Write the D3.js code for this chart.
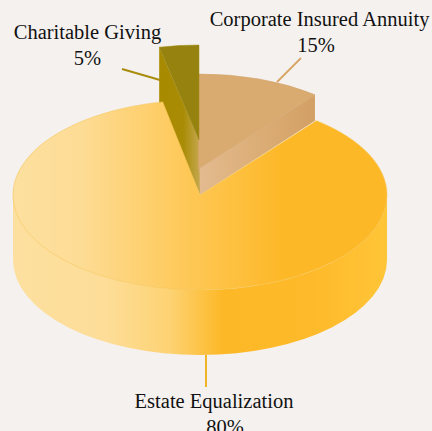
<!DOCTYPE html>
<html>
<head>
<meta charset="utf-8">
<script src="https://cdnjs.cloudflare.com/ajax/libs/d3/7.8.5/d3.min.js"></script>
<style>
  html, body { margin: 0; padding: 0; background: #f5f1ef; overflow: hidden; }
  text { font-family: "Liberation Serif", serif; font-size: 20.5px; fill: #111; }
</style>
</head>
<body>
<div id="chart"></div>
<script>
const categories = ["Corporate Insured Annuity", "Estate Equalization", "Charitable Giving"];
const shares = [15, 80, 5];

const width = 432, height = 431;
const cx = 200, cy = 195, rx = 187, ry = 95, depth = 65;

// the 3d view squeezes the slices near the back, so the pie angles get remapped
const deg = Math.PI / 180;
const viewAngle = d3.scaleLinear()
  .domain([0, 54, 342, 360].map(d => d * deg))
  .range([0, 38.5, 347.7, 360].map(d => d * deg));

// how each slice is drawn, same order as categories
const sliceStyle = [
  { lift: 26, dx: -1.5, top: "#d9ab71", wall: "url(#wall-corporate)", line: "#d9a66a", endTrim: 0,
    leader: [[277, 82], [301, 58]], label: [319.5, 26], pctDx: -3.5, stroke: "#d3a268" },
  { lift: 0, dx: 0, top: "url(#top-estate)", wall: null, line: "#f0b429", endTrim: 0.8,
    leader: [[206, 355], [206, 387]], label: [214, 408], pctDx: 11, stroke: "#f6c655" },
  { lift: 55, dx: -1, top: "#96820f", wall: "url(#wall-charitable)", line: "#a88c0c", endTrim: 0,
    leader: [[160, 80], [122, 69]], label: [87.5, 39], pctDx: 0, stroke: "#a08a10" }
];

const pie = d3.pie().sort(null).value(d => d);
const slices = pie(shares);

const svg = d3.select("#chart").append("svg")
  .attr("width", width)
  .attr("height", height)
  .style("display", "block");

svg.append("rect")
  .attr("width", width)
  .attr("height", height)
  .attr("fill", "#f5f1ef");

// gradients
const defs = svg.append("defs");
function addGradient(id, x1, x2, stops) {
  const g = defs.append("linearGradient")
    .attr("id", id)
    .attr("gradientUnits", "userSpaceOnUse")
    .attr("x1", x1).attr("x2", x2)
    .attr("y1", 0).attr("y2", 0);
  g.selectAll("stop")
    .data(stops)
    .join("stop")
      .attr("offset", d => d[0])
      .attr("stop-color", d => d[1]);
}
addGradient("top-estate", 13, 388, [[0, "#fde09f"], [0.18, "#fddc95"], [0.45, "#fec95a"], [0.72, "#fdb827"], [1, "#fdb827"]]);
addGradient("side-estate", 13, 388, [[0, "#fde09f"], [0.25, "#fddd98"], [0.42, "#fdd272"], [0.56, "#fdb827"], [0.8, "#feba2a"], [1, "#ffc538"]]);
addGradient("wall-corporate", 198, 316, [[0, "#e3bb90"], [0.5, "#dcae77"], [1, "#d29f64"]]);
addGradient("wall-charitable", 160, 199, [[0, "#a88a00"], [0.6, "#a98c05"], [1, "#c4a64c"]]);

function rim(a, lift, dx) {
  return [cx + dx + rx * Math.sin(a), cy - lift - ry * Math.cos(a)];
}

function sectorPath(s, style) {
  const a0 = viewAngle(s.startAngle), a1 = viewAngle(s.endAngle) + style.endTrim * deg;
  const p0 = rim(a0, style.lift, style.dx), p1 = rim(a1, style.lift, style.dx);
  const large = a1 - a0 > Math.PI ? 1 : 0;
  return `M${cx + style.dx},${cy - style.lift}L${p0}A${rx},${ry} 0 ${large} 1 ${p1}Z`;
}

// wall along the cut edge of a raised slice, from the rim down to the main disc
function wallPath(s, style) {
  const a = style.lift === 55 ? viewAngle(s.startAngle) : viewAngle(s.endAngle);
  const p = rim(a, style.lift, style.dx);
  return `M${cx + style.dx},${cy - style.lift}L${p}L${p[0]},${p[1] + style.lift}L${cx},${cy}Z`;
}

// leader lines
svg.selectAll(".leader")
  .data(sliceStyle)
  .join("line")
    .attr("class", "leader")
    .attr("x1", d => d.leader[0][0]).attr("y1", d => d.leader[0][1])
    .attr("x2", d => d.leader[1][0]).attr("y2", d => d.leader[1][1])
    .attr("stroke", d => d.line)
    .attr("stroke-width", 2);

// raised slices first, the main disc sits over their walls
const raised = slices.map((s, i) => ({ s, style: sliceStyle[i] })).filter(d => d.style.lift > 0);

svg.selectAll(".wall")
  .data(raised)
  .join("path")
    .attr("class", "wall")
    .attr("d", d => wallPath(d.s, d.style))
    .attr("fill", d => d.style.wall);

svg.selectAll(".raised-top")
  .data(raised)
  .join("path")
    .attr("class", "raised-top")
    .attr("d", d => sectorPath(d.s, d.style))
    .attr("fill", d => d.style.top)
    .attr("stroke", d => d.style.stroke)
    .attr("stroke-width", 0.5);

// main slice: outer side then top
svg.append("path")
  .attr("d", `M${cx - rx},${cy}A${rx},${ry} 0 0 0 ${cx + rx},${cy}L${cx + rx},${cy + depth}A${rx},${ry} 0 0 1 ${cx - rx},${cy + depth}Z`)
  .attr("fill", "url(#side-estate)");

svg.append("path")
  .attr("d", sectorPath(slices[1], sliceStyle[1]))
  .attr("fill", sliceStyle[1].top)
  .attr("stroke", sliceStyle[1].stroke)
  .attr("stroke-width", 0.6);

// labels
const labels = svg.selectAll(".label")
  .data(categories)
  .join("g")
    .attr("class", "label")
    .attr("transform", (d, i) => `translate(${sliceStyle[i].label})`);

labels.append("text")
  .attr("text-anchor", "middle")
  .text(d => d);

labels.append("text")
  .attr("text-anchor", "middle")
  .attr("dx", (d, i) => sliceStyle[i].pctDx)
  .attr("dy", 25.5)
  .text((d, i) => shares[i] + "%");
</script>
</body>
</html>
